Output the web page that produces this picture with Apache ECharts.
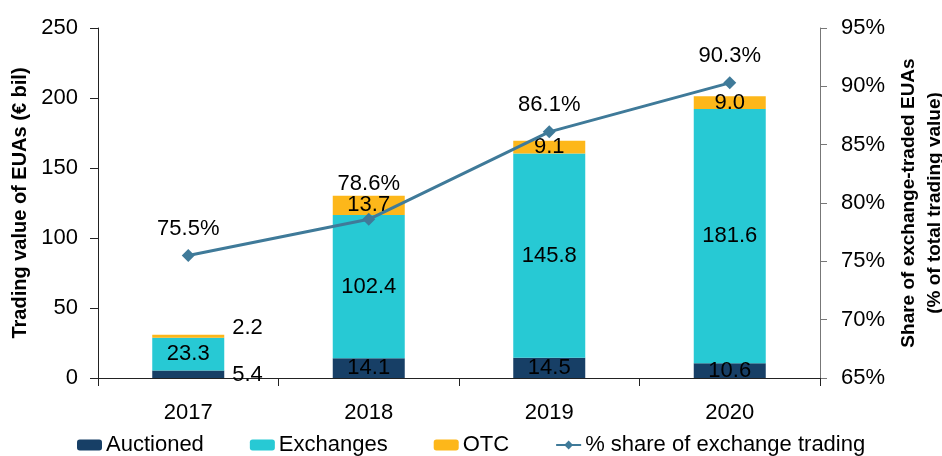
<!DOCTYPE html>
<html>
<head>
<meta charset="utf-8">
<script src="https://cdn.jsdelivr.net/npm/echarts@6/dist/echarts.min.js"></script>
<style>
  html, body { margin: 0; padding: 0; background: #fff; }
  #chart { width: 942px; height: 456px; }
</style>
</head>
<body>
<div id="chart"></div>
<script>
const years = ['2017', '2018', '2019', '2020']
const auctioned = [5.4, 14.1, 14.5, 10.6]
const exchanges = [23.3, 102.4, 145.8, 181.6]
const otc = [2.2, 13.7, 9.1, 9.0]
const shareExchange = [75.5, 78.6, 86.1, 90.3]

const FONT = 'Liberation Sans, Arial, sans-serif'

const drawEcharts = (option, id) => {
  let dom = document.getElementById(id)
  let echart = echarts.init(dom)
  option && echart.setOption(option)
}

// 2017 bar is too short: labels go to the right of the bar
const barData = (values, sideOffset) => values.map((v, i) => {
  if (i === 0) {
    return {
      value: v,
      label: { position: 'right', distance: 8, offset: [0, sideOffset] }
    }
  }
  return v
})

const oneDecimal = p => Number(p.value).toFixed(1)

const labelStyle = { show: true, color: '#000', fontSize: 22, fontFamily: FONT }

const option = {
  animation: false,
  textStyle: { fontFamily: FONT },
  grid: { left: 98, right: 122, top: 28, bottom: 78, outerBoundsMode: 'none', containLabel: false },
  legend: {
    left: 72,
    top: 429,
    itemWidth: 25,
    itemHeight: 11,
    itemGap: 46,
    textStyle: { fontSize: 22, color: '#000', fontFamily: FONT, padding: [0, 0, 0, -1] },
    data: ['Auctioned', 'Exchanges', 'OTC', '% share of exchange trading']
  },
  xAxis: {
    type: 'category',
    data: years,
    axisLine: { lineStyle: { color: '#222', width: 1 } },
    axisTick: { show: true, length: 8, lineStyle: { color: '#222' } },
    axisLabel: { color: '#000', fontSize: 22, margin: 24, fontFamily: FONT }
  },
  yAxis: [
    {
      type: 'value',
      min: 0, max: 250, interval: 50,
      name: 'Trading value of EUAs (€ bil)',
      nameLocation: 'middle',
      nameGap: 62,
      nameTextStyle: { fontSize: 20, fontWeight: 'bold', color: '#000', fontFamily: FONT },
      axisLine: { show: true, lineStyle: { color: '#222' } },
      axisTick: { show: true, length: 8, lineStyle: { color: '#222' } },
      axisLabel: { color: '#000', fontSize: 22, margin: 20, fontFamily: FONT },
      splitLine: { show: false }
    },
    {
      type: 'value',
      min: 65, max: 95, interval: 5,
      position: 'right',
      name: 'Share of exchange-traded EUAs\n(% of total trading value)',
      nameLocation: 'middle',
      nameGap: 72,
      nameRotate: 90,
      nameTextStyle: { fontSize: 19, fontWeight: 'bold', color: '#000', lineHeight: 26, fontFamily: FONT },
      axisLine: { show: true, lineStyle: { color: '#777' } },
      axisTick: { show: true, length: 7, lineStyle: { color: '#777' } },
      axisLabel: { color: '#000', fontSize: 22, margin: 21, formatter: '{value}%', fontFamily: FONT },
      splitLine: { show: false }
    }
  ],
  series: [
    {
      name: 'Auctioned',
      type: 'bar',
      stack: 'total',
      barWidth: 72,
      itemStyle: { color: '#173F66' },
      label: Object.assign({ position: 'inside', formatter: oneDecimal }, labelStyle),
      data: barData(auctioned, 1)
    },
    {
      name: 'Exchanges',
      type: 'bar',
      stack: 'total',
      itemStyle: { color: '#27C9D4' },
      label: Object.assign({ position: 'inside', formatter: oneDecimal }, labelStyle),
      data: exchanges
    },
    {
      name: 'OTC',
      type: 'bar',
      stack: 'total',
      itemStyle: { color: '#FDB71A' },
      label: Object.assign({ position: 'inside', formatter: oneDecimal }, labelStyle),
      data: barData(otc, -8)
    },
    {
      name: '% share of exchange trading',
      type: 'line',
      yAxisIndex: 1,
      symbol: 'diamond',
      symbolSize: 13,
      lineStyle: { color: '#3F7A99', width: 3 },
      itemStyle: { color: '#3F7A99' },
      label: Object.assign({ position: 'top', distance: 9, formatter: p => oneDecimal(p) + '%' }, labelStyle),
      data: shareExchange.map((v, i) => i === 1
        ? { value: v, label: { distance: 18 } }
        : v)
    }
  ]
}

drawEcharts(option, 'chart')
</script>
</body>
</html>
